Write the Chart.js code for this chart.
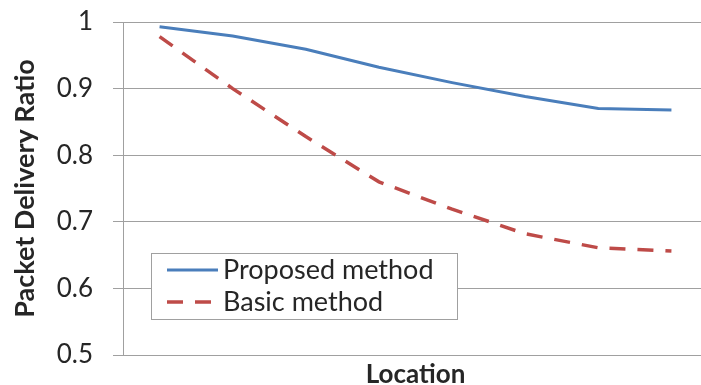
<!DOCTYPE html>
<html>
<head>
<meta charset="utf-8">
<script src="https://cdn.jsdelivr.net/npm/chart.js@4"></script>
<style>
  html, body { margin: 0; padding: 0; background: #fff; overflow: hidden; width: 701px; height: 385px; }
  #wrap { position: absolute; left: 0; top: 0; }
</style>
</head>
<body>
<div id="wrap"><canvas id="chart" width="720" height="400"></canvas></div>
<script>
const locations = ['L1', 'L2', 'L3', 'L4', 'L5', 'L6', 'L7', 'L8'];
const proposed = [0.993, 0.979, 0.959, 0.932, 0.909, 0.888, 0.870, 0.868];
const basic = [0.978, 0.900, 0.828, 0.760, 0.719, 0.682, 0.661, 0.656];
const yTickLabels = ['0.5', '0.6', '0.7', '0.8', '0.9', '1'];

const FONT = 'Lato, "Open Sans", sans-serif';
const GRID = '#a0a0a0';
const TEXT = '#262626';

// legend box drawn inside the plot, like the Excel chart
const boxLegend = {
    id: 'boxLegend',
    afterDatasetsDraw(chart, args, opts) {
        const ctx = chart.ctx;
        ctx.save();
        ctx.fillStyle = '#fff';
        ctx.strokeStyle = GRID;
        ctx.lineWidth = 1;
        ctx.fillRect(opts.x, opts.y, opts.w, opts.h);
        ctx.strokeRect(opts.x + 0.5, opts.y + 0.5, opts.w, opts.h);
        chart.data.datasets.forEach((ds, i) => {
            const y = opts.y + opts.rowTop + i * opts.rowGap;
            ctx.beginPath();
            ctx.strokeStyle = ds.borderColor;
            ctx.lineWidth = ds.borderWidth;
            ctx.setLineDash(ds.borderDash || []);
            ctx.moveTo(opts.x + 16, y);
            ctx.lineTo(opts.x + 16 + opts.sample, y);
            ctx.stroke();
            ctx.setLineDash([]);
            ctx.fillStyle = TEXT;
            ctx.font = opts.font;
            ctx.textBaseline = 'middle';
            ctx.fillText(ds.label, opts.x + 72, y);
        });
        ctx.restore();
    }
};

new Chart(document.getElementById('chart'), {
    type: 'line',
    data: {
        labels: locations,
        datasets: [{
            label: 'Proposed method',
            data: proposed,
            borderColor: '#4a7ebb',
            borderWidth: 3,
            pointRadius: 0,
            tension: 0
        }, {
            label: 'Basic method',
            data: basic,
            borderColor: '#be4b48',
            borderWidth: 3.5,
            borderDash: [16, 12],
            pointRadius: 0,
            tension: 0
        }]
    },
    options: {
        responsive: false,
        animation: false,
        layout: { padding: { top: 22, right: 12, left: 0, bottom: 0 } },
        plugins: {
            legend: { display: false },
            tooltip: { enabled: false },
            boxLegend: { x: 151, y: 253, w: 306, h: 66, rowTop: 17, rowGap: 32, sample: 51, font: '27px ' + FONT }
        },
        scales: {
            x: {
                offset: true,
                grid: { display: false },
                border: { display: false },
                ticks: { display: false },
                title: {
                    display: true,
                    text: 'Location',
                    color: TEXT,
                    font: { family: FONT, size: 26, weight: 'bold' },
                    padding: { top: 0, bottom: 10 }
                },
                afterFit(scale) { scale.height = 45; }
            },
            y: {
                min: 0.5,
                max: 1,
                grid: { color: GRID, lineWidth: 1, tickLength: 10 },
                border: { color: GRID, width: 1 },
                ticks: {
                    stepSize: 0.1,
                    padding: 20,
                    color: TEXT,
                    font: { family: FONT, size: 26 },
                    callback: (v, i) => yTickLabels[i]
                },
                title: {
                    display: true,
                    text: 'Packet Delivery Ratio',
                    color: TEXT,
                    font: { family: FONT, size: 27, weight: 'bold' },
                    padding: { top: 9, bottom: 0 }
                },
                afterFit(scale) {
                    scale.width = 123;
                    scale.paddingTop = 0;
                    scale.paddingBottom = 0;
                }
            }
        }
    },
    plugins: [boxLegend]
});
</script>
</body>
</html>
